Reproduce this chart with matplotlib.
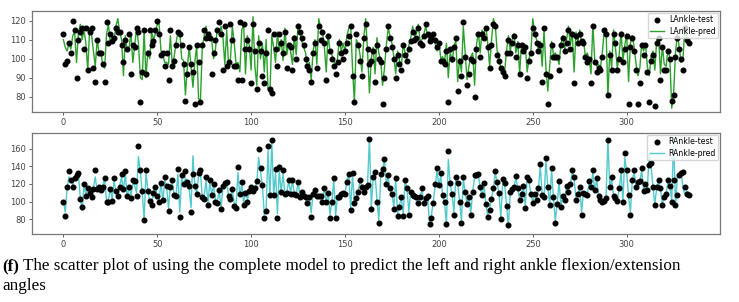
import matplotlib
matplotlib.use('Agg')
import matplotlib.pyplot as plt
import numpy as np

# LAnkle: test points and predicted curve
l_test = [113, 97, 99, 108, 103, 120, 115, 90, 110, 114,
          116, 105, 116, 94, 114, 116, 95, 88, 110, 103,
          103, 97, 88, 119, 108, 113, 109, 111, 116, 114,
          114, 107, 98, 110, 105, 113, 92, 107, 106, 116,
          114, 77, 93, 115, 92, 103, 115, 107, 109, 115,
          120, 113, 102, 103, 96, 103, 89, 115, 96, 99,
          107, 114, 113, 107, 97, 78, 92, 106, 97, 93,
          76, 107, 98, 77, 107, 115, 111, 113, 111, 92,
          103, 110, 115, 119, 113, 94, 117, 96, 98, 118,
          110, 96, 96, 89, 119, 89, 118, 105, 110, 105,
          87, 118, 104, 84, 108, 104, 91, 87, 103, 115,
          84, 82, 113, 105, 96, 113, 108, 103, 114, 95,
          107, 106, 94, 111, 100, 117, 114, 111, 107, 100,
          96, 94, 88, 103, 108, 95, 117, 110, 114, 108,
          89, 112, 104, 100, 96, 92, 98, 108, 103, 100,
          104, 108, 112, 117, 91, 77, 113, 107, 99, 91,
          111, 118, 105, 97, 99, 104, 88, 107, 100, 98,
          76, 90, 105, 117, 111, 106, 100, 90, 102, 97,
          94, 107, 102, 99, 105, 109, 114, 110, 111, 116,
          108, 107, 112, 118, 113, 109, 111, 113, 110, 106,
          108, 99, 99, 97, 104, 77, 105, 100, 106, 111,
          83, 99, 91, 119, 101, 86, 92, 100, 99, 80,
          105, 113, 101, 113, 111, 116, 106, 95, 107, 118,
          117, 102, 99, 95, 93, 91, 103, 110, 103, 108,
          112, 101, 107, 92, 107, 104, 106, 90, 99, 103,
          116, 113, 108, 104, 107, 88, 116, 92, 76, 91,
          107, 101, 101, 101, 94, 107, 111, 104, 108, 115,
          105, 113, 87, 112, 108, 113, 109, 108, 101, 98,
          100, 87, 117, 98, 93, 95, 94, 101, 115, 113,
          81, 102, 94, 113, 108, 94, 100, 113, 98, 105,
          112, 76, 106, 111, 104, 94, 76, 87, 107, 102,
          107, 93, 77, 99, 102, 75, 108, 111, 89, 106,
          94, 94, 104, 100, 78, 81, 101, 111, 105, 100,
          94, 116, 110, 108]

l_pred = [110, 106, 104, 108, 105, 112, 114, 98, 113, 118,
          110, 115, 108, 94, 116, 113, 104, 96, 110, 103,
          104, 96, 95, 113, 118, 108, 112, 110, 117, 121,
          114, 110, 91, 112, 104, 106, 113, 98, 107, 116,
          108, 90, 89, 115, 90, 104, 100, 114, 110, 113,
          118, 118, 104, 102, 98, 98, 97, 112, 97, 101,
          108, 114, 114, 100, 99, 81, 95, 106, 96, 85,
          98, 107, 79, 78, 106, 112, 117, 110, 114, 110,
          100, 105, 116, 113, 117, 111, 97, 115, 96, 100,
          117, 108, 97, 98, 93, 115, 118, 92, 112, 107,
          94, 122, 96, 86, 112, 100, 108, 93, 110, 84,
          82, 112, 106, 98, 114, 104, 110, 99, 116, 102,
          108, 104, 97, 112, 102, 118, 114, 109, 106, 103,
          95, 98, 89, 104, 110, 97, 121, 116, 114, 106,
          93, 113, 104, 102, 99, 96, 100, 110, 104, 108,
          104, 112, 116, 118, 95, 77, 110, 108, 102, 93,
          111, 121, 104, 82, 100, 106, 92, 111, 103, 99,
          86, 95, 107, 116, 112, 108, 101, 92, 104, 99,
          96, 108, 103, 100, 107, 111, 117, 112, 113, 118,
          109, 110, 113, 117, 112, 110, 112, 111, 108, 104,
          109, 100, 101, 98, 108, 90, 104, 98, 106, 110,
          88, 100, 93, 117, 103, 89, 96, 101, 103, 86,
          107, 114, 103, 115, 113, 117, 108, 96, 109, 121,
          118, 104, 102, 94, 96, 93, 104, 112, 104, 110,
          113, 103, 109, 92, 108, 103, 107, 93, 100, 104,
          121, 113, 110, 104, 109, 96, 115, 95, 83, 96,
          109, 102, 103, 101, 97, 108, 112, 105, 110, 117,
          107, 114, 93, 114, 109, 115, 108, 110, 101, 103,
          100, 92, 118, 99, 96, 97, 95, 103, 114, 116,
          80, 104, 95, 115, 106, 95, 102, 114, 99, 107,
          113, 88, 108, 112, 106, 97, 91, 95, 108, 104,
          108, 96, 91, 101, 104, 94, 110, 112, 92, 107,
          97, 96, 105, 100, 74, 82, 103, 113, 106, 98,
          100, 117, 110, 108]

# RAnkle: test points and predicted curve
r_test = [100, 84, 117, 135, 124, 117, 127, 130, 133, 103,
          94, 120, 106, 115, 110, 105, 114, 136, 114, 117,
          113, 116, 127, 99, 100, 114, 101, 127, 112, 106,
          116, 131, 114, 135, 106, 117, 104, 124, 123, 106,
          163, 136, 112, 79, 136, 112, 101, 96, 110, 116,
          106, 100, 121, 102, 128, 118, 89, 117, 125, 107,
          106, 137, 82, 130, 120, 135, 122, 118, 88, 131,
          118, 108, 133, 136, 105, 103, 128, 96, 125, 107,
          120, 100, 98, 113, 91, 118, 121, 122, 106, 103,
          114, 95, 93, 139, 108, 122, 96, 110, 100, 112,
          117, 112, 115, 123, 160, 138, 119, 81, 89, 163,
          107, 170, 107, 137, 81, 139, 111, 136, 109, 110,
          125, 109, 125, 109, 107, 122, 105, 111, 106, 105,
          98, 105, 82, 109, 113, 106, 106, 106, 100, 115,
          100, 110, 81, 100, 127, 81, 105, 105, 108, 110,
          109, 122, 131, 90, 133, 98, 104, 111, 125, 117,
          111, 116, 119, 171, 92, 128, 134, 100, 76, 131,
          137, 148, 120, 130, 115, 108, 92, 127, 83, 94,
          105, 83, 125, 115, 85, 111, 107, 106, 105, 98,
          105, 115, 98, 104, 106, 74, 81, 98, 120, 138,
          119, 132, 107, 100, 74, 158, 121, 109, 85, 128,
          121, 100, 76, 128, 111, 97, 105, 85, 111, 130,
          130, 131, 117, 107, 121, 97, 82, 90, 103, 115,
          135, 122, 110, 80, 126, 121, 95, 73, 111, 114,
          117, 129, 115, 102, 108, 118, 93, 128, 125, 109,
          98, 109, 102, 115, 143, 107, 105, 150, 117, 96,
          138, 105, 76, 97, 123, 94, 106, 102, 118, 111,
          120, 136, 128, 102, 109, 117, 85, 110, 109, 107,
          123, 117, 136, 113, 127, 106, 102, 99, 101, 104,
          170, 117, 128, 106, 104, 101, 115, 136, 100, 155,
          136, 107, 85, 125, 136, 117, 122, 123, 138, 112,
          120, 113, 142, 144, 117, 96, 117, 125, 115, 96,
          105, 109, 125, 118, 100, 124, 96, 107, 130, 133,
          134, 117, 108, 107]

r_pred = [101, 88, 115, 128, 124, 119, 127, 126, 131, 105,
          90, 118, 108, 114, 111, 106, 115, 128, 112, 117,
          112, 117, 126, 100, 102, 114, 103, 124, 111, 107,
          118, 128, 112, 133, 104, 118, 106, 121, 118, 110,
          151, 134, 110, 80, 133, 113, 100, 98, 108, 118,
          105, 102, 122, 100, 124, 117, 92, 119, 121, 108,
          106, 131, 88, 128, 118, 127, 121, 114, 93, 152,
          117, 110, 129, 133, 104, 106, 124, 98, 122, 108,
          118, 102, 100, 112, 93, 117, 120, 121, 107, 104,
          113, 98, 96, 133, 106, 121, 98, 112, 102, 111,
          116, 113, 114, 122, 150, 134, 118, 85, 92, 158,
          105, 168, 108, 133, 86, 136, 110, 132, 108, 111,
          123, 110, 124, 108, 106, 124, 104, 112, 105, 103,
          99, 104, 87, 110, 115, 106, 107, 104, 101, 116,
          99, 111, 85, 99, 125, 84, 106, 104, 109, 111,
          108, 124, 131, 92, 130, 99, 105, 112, 123, 118,
          110, 117, 120, 172, 94, 126, 131, 102, 79, 128,
          135, 148, 121, 128, 113, 109, 93, 125, 86, 96,
          104, 86, 124, 114, 88, 112, 106, 107, 104, 99,
          106, 113, 99, 105, 105, 74, 84, 100, 118, 135,
          118, 130, 106, 99, 74, 148, 120, 108, 88, 126,
          120, 101, 78, 126, 110, 98, 104, 87, 112, 127,
          129, 130, 116, 106, 119, 98, 84, 92, 104, 114,
          133, 121, 109, 82, 124, 119, 97, 72, 110, 115,
          116, 128, 114, 103, 109, 117, 95, 126, 123, 108,
          99, 110, 103, 114, 140, 108, 104, 147, 116, 97,
          136, 104, 78, 98, 122, 96, 105, 103, 117, 110,
          119, 134, 126, 103, 108, 116, 88, 111, 110, 108,
          121, 116, 133, 112, 125, 107, 103, 100, 102, 105,
          170, 116, 126, 107, 104, 102, 114, 133, 101, 150,
          134, 106, 88, 124, 134, 116, 121, 122, 136, 113,
          119, 114, 155, 141, 116, 97, 116, 124, 114, 98,
          106, 108, 123, 117, 102, 170, 96, 128, 131, 132,
          116, 108, 112, 110]

x_ticks = [0, 50, 100, 150, 200, 250, 300]
l_yticks = [80, 90, 100, 110, 120]
r_yticks = [80, 100, 120, 140, 160]

caption_bold = '(f)'
caption_1 = ' The scatter plot of using the complete model to predict the left and right ankle flexion/extension'
caption_2 = 'angles'

W, H = 739, 302
fig = plt.figure(figsize=(W / 100, H / 100), dpi=100)

panels = [
    (l_test, l_pred, 'LAnkle', '#2ca02c', (72, 125), l_yticks, 11),
    (r_test, r_pred, 'RAnkle', '#52c9cc', (63, 178), r_yticks, 133),
]

for test, pred, name, col, ylim, yt, top_px in panels:
    ax = fig.add_axes([32 / W, 1 - (top_px + 101) / H, 688 / W, 101 / H])
    x = np.arange(len(test))
    ln, = ax.plot(x, pred, color=col, lw=1.0, zorder=2)
    sc = ax.scatter(x, test, s=11, color='black', zorder=3)
    ax.set_ylim(*ylim)
    ax.set_xlim(-16.7, 349.7)
    ax.set_xticks(x_ticks)
    ax.set_yticks(yt)
    ax.tick_params(labelsize=6, colors='#444444', length=2.5, width=0.6, pad=2)
    for s in ax.spines.values():
        s.set_color('#777777')
        s.set_linewidth(0.9)
    ax.legend([sc, ln], [name + '-test', name + '-pred'], loc='upper right',
              fontsize=5.6, frameon=True, borderpad=0.35, labelspacing=0.3,
              handlelength=1.8, handletextpad=0.6, borderaxespad=0.2)

serif = ['Liberation Serif', 'DejaVu Serif']
fs = 12.3
t0 = fig.text(2 / W, 1 - 270 / H, caption_bold, fontsize=fs, fontweight='bold',
              family=serif, va='baseline')
fig.canvas.draw()
bb = t0.get_window_extent(fig.canvas.get_renderer())
fig.text(bb.x1 / W, 1 - 270 / H, caption_1, fontsize=fs, family=serif, va='baseline')
fig.text(2 / W, 1 - 290 / H, caption_2, fontsize=fs, family=serif, va='baseline')

fig.savefig('out.png', dpi=100)
